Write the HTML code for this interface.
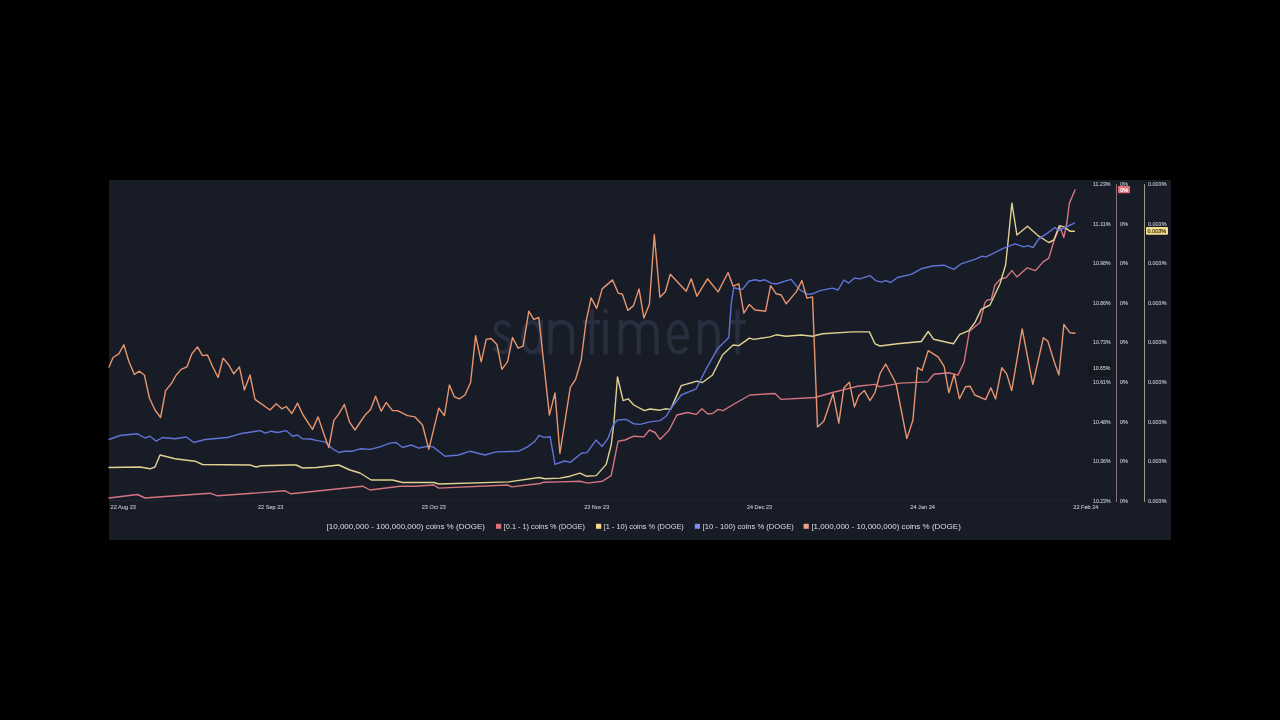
<!DOCTYPE html>
<html><head><meta charset="utf-8"><title>chart</title>
<style>
html,body{margin:0;padding:0;background:#000;width:1280px;height:720px;overflow:hidden;}
body{position:relative;font-family:"Liberation Sans",sans-serif;}
.panel{position:absolute;left:109px;top:180px;width:1062px;height:360px;background:#171c27;}
svg{position:absolute;left:0;top:0;font-family:"Liberation Sans",sans-serif;will-change:transform;}
</style></head><body>
<div class="panel"></div>
<svg width="1280" height="720" viewBox="0 0 1280 720">
<path d="M509.6 327 C508 323.8 505.5 322.1 502.5 322.1 C498.3 322.1 495.6 324.7 495.6 328.8 C495.6 333.6 499.5 335.4 502.8 336.8 C506.6 338.4 510 340.3 510 345.3 C510 349.8 506.9 352.4 502.4 352.4 C498.6 352.4 495.6 350.5 494.3 347.4 M523.1 337.25 C523.1 328.6 527 322.1 532 322.1 C537 322.1 540.9 328.6 540.9 337.25 C540.9 345.9 537 352.4 532 352.4 C527 352.4 523.1 345.9 523.1 337.25 Z M540.9 320 V354.5 M550.60 320 V354.5 M550.60 334 C550.60 325.60 554.33 322.1 561.25 322.1 C568.17 322.1 571.90 325.60 571.90 334 V354.5 M583 322.1 H600 M591.8 309.5 V354.5 M605.6 320 V354.5 M620.85 320 V354.5 M620.85 334 C620.85 325.60 623.98 322.1 629.80 322.1 C635.62 322.1 638.75 325.60 638.75 334 V354.5 M638.75 334 C638.75 325.60 641.88 322.1 647.70 322.1 C653.52 322.1 656.65 325.60 656.65 334 V354.5 M669.1 337.3 H686.9 C686.9 328.2 683 322.1 678 322.1 C673 322.1 669.1 328.2 669.1 337.25 C669.1 346.3 673 352.4 678 352.4 C681.7 352.4 684.6 350.5 686.3 347.3 M700.10 320 V354.5 M700.10 334 C700.10 325.60 703.14 322.1 708.80 322.1 C714.45 322.1 717.50 325.60 717.50 334 V354.5 M729 322.1 H746 M737.5 309.5 V354.5" fill="none" stroke="#282e3e" stroke-width="4.2"/>
<circle cx="605.6" cy="311" r="2.4" fill="#282e3e"/>
<text x="1093" y="185.7" font-size="5.2" fill="#b4b8c3" stroke="#b4b8c3" stroke-width="0.15" textLength="17.6" lengthAdjust="spacingAndGlyphs">11.23%</text>
<text x="1120" y="185.7" font-size="5.2" fill="#b4b8c3" stroke="#b4b8c3" stroke-width="0.15" textLength="8" lengthAdjust="spacingAndGlyphs">0%</text>
<text x="1148" y="185.7" font-size="5.2" fill="#b4b8c3" stroke="#b4b8c3" stroke-width="0.15" textLength="18.5" lengthAdjust="spacingAndGlyphs">0.003%</text>
<text x="1093" y="225.7" font-size="5.2" fill="#b4b8c3" stroke="#b4b8c3" stroke-width="0.15" textLength="17.6" lengthAdjust="spacingAndGlyphs">11.11%</text>
<text x="1120" y="225.7" font-size="5.2" fill="#b4b8c3" stroke="#b4b8c3" stroke-width="0.15" textLength="8" lengthAdjust="spacingAndGlyphs">0%</text>
<text x="1148" y="225.7" font-size="5.2" fill="#b4b8c3" stroke="#b4b8c3" stroke-width="0.15" textLength="18.5" lengthAdjust="spacingAndGlyphs">0.003%</text>
<text x="1093" y="265.1" font-size="5.2" fill="#b4b8c3" stroke="#b4b8c3" stroke-width="0.15" textLength="17.6" lengthAdjust="spacingAndGlyphs">10.98%</text>
<text x="1120" y="265.1" font-size="5.2" fill="#b4b8c3" stroke="#b4b8c3" stroke-width="0.15" textLength="8" lengthAdjust="spacingAndGlyphs">0%</text>
<text x="1148" y="265.1" font-size="5.2" fill="#b4b8c3" stroke="#b4b8c3" stroke-width="0.15" textLength="18.5" lengthAdjust="spacingAndGlyphs">0.003%</text>
<text x="1093" y="304.5" font-size="5.2" fill="#b4b8c3" stroke="#b4b8c3" stroke-width="0.15" textLength="17.6" lengthAdjust="spacingAndGlyphs">10.86%</text>
<text x="1120" y="304.5" font-size="5.2" fill="#b4b8c3" stroke="#b4b8c3" stroke-width="0.15" textLength="8" lengthAdjust="spacingAndGlyphs">0%</text>
<text x="1148" y="304.5" font-size="5.2" fill="#b4b8c3" stroke="#b4b8c3" stroke-width="0.15" textLength="18.5" lengthAdjust="spacingAndGlyphs">0.003%</text>
<text x="1093" y="344.2" font-size="5.2" fill="#b4b8c3" stroke="#b4b8c3" stroke-width="0.15" textLength="17.6" lengthAdjust="spacingAndGlyphs">10.73%</text>
<text x="1120" y="344.2" font-size="5.2" fill="#b4b8c3" stroke="#b4b8c3" stroke-width="0.15" textLength="8" lengthAdjust="spacingAndGlyphs">0%</text>
<text x="1148" y="344.2" font-size="5.2" fill="#b4b8c3" stroke="#b4b8c3" stroke-width="0.15" textLength="18.5" lengthAdjust="spacingAndGlyphs">0.003%</text>
<text x="1093" y="383.7" font-size="5.2" fill="#b4b8c3" stroke="#b4b8c3" stroke-width="0.15" textLength="17.6" lengthAdjust="spacingAndGlyphs">10.61%</text>
<text x="1120" y="383.7" font-size="5.2" fill="#b4b8c3" stroke="#b4b8c3" stroke-width="0.15" textLength="8" lengthAdjust="spacingAndGlyphs">0%</text>
<text x="1148" y="383.7" font-size="5.2" fill="#b4b8c3" stroke="#b4b8c3" stroke-width="0.15" textLength="18.5" lengthAdjust="spacingAndGlyphs">0.003%</text>
<text x="1093" y="423.5" font-size="5.2" fill="#b4b8c3" stroke="#b4b8c3" stroke-width="0.15" textLength="17.6" lengthAdjust="spacingAndGlyphs">10.48%</text>
<text x="1120" y="423.5" font-size="5.2" fill="#b4b8c3" stroke="#b4b8c3" stroke-width="0.15" textLength="8" lengthAdjust="spacingAndGlyphs">0%</text>
<text x="1148" y="423.5" font-size="5.2" fill="#b4b8c3" stroke="#b4b8c3" stroke-width="0.15" textLength="18.5" lengthAdjust="spacingAndGlyphs">0.003%</text>
<text x="1093" y="463.2" font-size="5.2" fill="#b4b8c3" stroke="#b4b8c3" stroke-width="0.15" textLength="17.6" lengthAdjust="spacingAndGlyphs">10.36%</text>
<text x="1120" y="463.2" font-size="5.2" fill="#b4b8c3" stroke="#b4b8c3" stroke-width="0.15" textLength="8" lengthAdjust="spacingAndGlyphs">0%</text>
<text x="1148" y="463.2" font-size="5.2" fill="#b4b8c3" stroke="#b4b8c3" stroke-width="0.15" textLength="18.5" lengthAdjust="spacingAndGlyphs">0.003%</text>
<text x="1093" y="502.7" font-size="5.2" fill="#b4b8c3" stroke="#b4b8c3" stroke-width="0.15" textLength="17.6" lengthAdjust="spacingAndGlyphs">10.23%</text>
<text x="1120" y="502.7" font-size="5.2" fill="#b4b8c3" stroke="#b4b8c3" stroke-width="0.15" textLength="8" lengthAdjust="spacingAndGlyphs">0%</text>
<text x="1148" y="502.7" font-size="5.2" fill="#b4b8c3" stroke="#b4b8c3" stroke-width="0.15" textLength="18.5" lengthAdjust="spacingAndGlyphs">0.003%</text>
<text x="110.5" y="508.9" font-size="5.6" fill="#b4b8c3" stroke="#b4b8c3" stroke-width="0.15" textLength="25.5" lengthAdjust="spacingAndGlyphs">22 Aug 23</text>
<text x="258" y="508.9" font-size="5.6" fill="#b4b8c3" stroke="#b4b8c3" stroke-width="0.15" textLength="25.4" lengthAdjust="spacingAndGlyphs">22 Sep 23</text>
<text x="421.7" y="508.9" font-size="5.6" fill="#b4b8c3" stroke="#b4b8c3" stroke-width="0.15" textLength="24.2" lengthAdjust="spacingAndGlyphs">23 Oct 23</text>
<text x="584.2" y="508.9" font-size="5.6" fill="#b4b8c3" stroke="#b4b8c3" stroke-width="0.15" textLength="25.0" lengthAdjust="spacingAndGlyphs">23 Nov 23</text>
<text x="747" y="508.9" font-size="5.6" fill="#b4b8c3" stroke="#b4b8c3" stroke-width="0.15" textLength="25.0" lengthAdjust="spacingAndGlyphs">24 Dec 23</text>
<text x="910.3" y="508.9" font-size="5.6" fill="#b4b8c3" stroke="#b4b8c3" stroke-width="0.15" textLength="24.7" lengthAdjust="spacingAndGlyphs">24 Jan 24</text>
<text x="1073.3" y="508.9" font-size="5.6" fill="#b4b8c3" stroke="#b4b8c3" stroke-width="0.15" textLength="25.2" lengthAdjust="spacingAndGlyphs">22 Feb 24</text>
<rect x="109" y="500" width="966" height="1" fill="#1f2430"/>
<rect x="1116" y="184" width="1" height="318" fill="#86707c"/>
<rect x="1144" y="184" width="1" height="318" fill="#a09c84"/>
<rect x="1088" y="360" width="24" height="16" rx="2" fill="#141821"/>
<text x="1110.5" y="369.9" text-anchor="end" font-size="5.2" fill="#e6e8ee">10.65%</text>
<rect x="1118" y="186" width="12" height="7.3" rx="1" fill="#e46e76"/>
<text x="1120.2" y="191.9" font-size="5.4" fill="#ffffff" stroke="#ffffff" stroke-width="0.15" textLength="8" lengthAdjust="spacingAndGlyphs">0%</text>
<rect x="1146" y="227" width="22" height="7.7" rx="1" fill="#f4dc92"/>
<text x="1147.6" y="232.9" font-size="5.4" fill="#4a3c10" stroke="#4a3c10" stroke-width="0.2" textLength="18.4" lengthAdjust="spacingAndGlyphs">0.003%</text>
<path d="M109.0 498.0 L137.5 494.5 L145.0 498.0 L210.0 493.2 L217.5 495.8 L285.0 490.8 L291.2 493.8 L362.5 486.2 L370.0 490.0 L400.0 486.2 L415.0 486.2 L433.8 485.0 L438.8 488.1 L507.5 485.0 L511.9 486.9 L540.0 483.5 L543.8 482.2 L560.0 481.9 L580.0 481.2 L587.5 483.1 L602.5 481.2 L611.2 475.6 L618.1 441.2 L625.0 440.0 L633.8 436.2 L643.8 436.9 L649.4 430.0 L655.0 432.5 L660.0 439.4 L668.8 430.6 L676.9 415.0 L687.5 412.5 L696.2 414.4 L701.9 408.8 L707.5 413.8 L712.5 413.5 L718.1 409.4 L723.1 410.6 L735.0 403.5 L750.0 395.0 L775.0 393.5 L781.2 399.4 L815.0 397.5 L832.5 392.5 L850.0 388.1 L857.5 386.2 L875.0 384.4 L880.0 386.9 L900.0 383.1 L927.5 381.9 L933.8 374.3 L948.8 372.8 L958.0 375.1 L964.1 362.1 L969.4 331.2 L980.0 322.5 L985.0 302.5 L987.5 300.0 L991.2 299.4 L995.0 285.0 L1000.0 279.4 L1006.2 277.5 L1011.9 270.6 L1016.9 276.9 L1027.2 267.8 L1035.5 270.6 L1043.1 261.9 L1048.8 258.1 L1053.8 241.2 L1060.0 226.2 L1063.8 237.5 L1066.9 222.5 L1069.4 203.1 L1075.0 190.0" fill="none" stroke="#d47580" stroke-width="1.4" stroke-linejoin="round" stroke-linecap="round"/>
<path d="M109.0 467.5 L140.0 467.0 L150.0 468.8 L155.0 467.0 L160.0 455.0 L175.0 458.8 L195.0 461.2 L202.5 464.5 L250.0 465.0 L256.2 467.0 L261.2 465.8 L290.0 465.0 L296.2 465.0 L302.5 468.0 L316.2 467.5 L338.8 465.0 L350.0 470.0 L360.0 473.0 L371.2 480.0 L392.5 480.0 L402.5 482.5 L415.0 482.5 L433.8 482.5 L438.8 484.0 L508.8 481.9 L538.8 477.5 L545.0 478.8 L560.0 478.1 L570.0 476.2 L580.0 473.1 L586.2 476.2 L596.2 475.6 L606.2 464.4 L611.2 445.0 L613.8 423.8 L617.5 376.9 L623.1 400.6 L628.1 398.8 L633.8 405.0 L644.4 410.6 L650.0 409.0 L660.0 410.2 L665.0 408.8 L670.6 409.4 L681.2 385.6 L696.9 381.2 L702.5 382.5 L712.5 375.0 L722.5 355.0 L733.1 345.0 L738.8 345.6 L749.4 338.1 L753.8 339.4 L770.0 336.9 L776.2 334.8 L786.2 336.2 L801.2 335.0 L812.5 336.2 L822.5 333.8 L852.5 331.9 L869.4 331.9 L875.0 343.8 L880.0 346.0 L897.5 343.8 L921.3 341.5 L928.2 331.5 L933.5 339.2 L953.4 343.8 L959.5 334.6 L968.8 330.6 L975.0 322.5 L981.2 309.4 L990.0 305.0 L1000.0 283.8 L1005.6 265.0 L1008.1 241.2 L1011.9 203.1 L1016.9 235.0 L1027.5 226.2 L1038.8 236.2 L1048.8 242.5 L1053.8 240.0 L1059.4 225.6 L1063.8 226.9 L1070.0 231.2 L1074.4 231.2" fill="none" stroke="#e1d292" stroke-width="1.4" stroke-linejoin="round" stroke-linecap="round"/>
<path d="M109.0 439.5 L120.0 435.5 L137.5 433.8 L145.0 438.0 L150.0 436.2 L156.2 441.2 L162.5 437.5 L175.0 438.8 L186.2 437.0 L193.8 442.5 L205.0 439.5 L227.5 437.5 L240.0 433.8 L260.0 430.6 L265.6 433.1 L271.2 431.2 L277.5 432.5 L286.2 430.6 L292.5 436.2 L297.5 435.0 L302.5 438.8 L310.0 439.0 L317.5 440.6 L325.0 441.9 L332.5 448.8 L338.8 452.5 L345.0 451.2 L352.5 451.2 L360.0 448.8 L370.0 449.4 L380.0 446.9 L390.0 443.1 L396.2 442.5 L402.5 447.5 L411.2 445.0 L418.8 448.1 L427.5 446.2 L433.1 446.9 L445.0 456.2 L458.8 455.0 L470.0 451.2 L485.0 455.0 L496.2 451.9 L518.8 451.2 L527.5 446.9 L535.0 441.2 L539.0 435.3 L543.9 437.4 L550.1 436.7 L555.0 464.4 L564.7 461.0 L570.3 462.4 L581.4 453.3 L587.0 452.6 L596.0 440.1 L602.2 446.4 L608.1 438.1 L613.1 425.0 L617.5 420.0 L626.2 419.4 L633.8 423.8 L640.0 424.4 L650.0 421.9 L660.0 420.6 L666.2 416.2 L672.5 406.2 L681.2 395.0 L696.2 388.8 L706.2 368.8 L717.5 348.8 L728.8 337.5 L731.2 303.8 L733.8 287.5 L737.5 288.8 L742.5 289.4 L748.8 281.2 L755.0 279.8 L760.0 281.0 L765.0 279.8 L771.2 283.1 L776.2 284.0 L785.0 281.2 L791.2 279.4 L799.4 289.4 L807.5 294.4 L812.5 293.8 L820.0 290.6 L832.5 288.1 L838.1 290.0 L843.8 280.0 L848.8 283.1 L854.4 278.1 L860.0 278.8 L870.0 275.6 L875.6 280.6 L881.2 282.2 L885.6 280.6 L890.6 282.5 L897.5 277.5 L911.2 274.4 L921.2 268.8 L932.5 266.0 L943.8 265.2 L953.8 269.4 L961.2 263.8 L976.2 258.8 L981.9 256.2 L986.2 256.9 L1003.8 248.1 L1015.0 243.8 L1023.8 246.9 L1028.1 245.6 L1033.1 247.5 L1038.8 238.8 L1047.5 233.1 L1055.0 227.5 L1058.8 230.6 L1065.0 227.5 L1074.4 223.1" fill="none" stroke="#5f74d6" stroke-width="1.4" stroke-linejoin="round" stroke-linecap="round"/>
<path d="M109.0 367.0 L113.1 357.5 L118.8 353.8 L123.8 344.8 L128.8 361.2 L134.4 374.4 L139.4 371.2 L144.4 375.0 L149.4 398.0 L155.0 410.0 L160.6 417.5 L165.6 390.6 L171.2 383.8 L176.2 375.0 L181.2 369.4 L186.9 366.9 L191.9 353.8 L197.5 346.9 L202.5 355.6 L207.5 355.0 L212.5 366.2 L218.1 377.5 L223.1 358.1 L228.8 365.0 L233.8 373.8 L239.4 366.9 L244.4 390.0 L250.0 375.0 L255.0 399.4 L270.0 410.0 L276.2 403.8 L281.9 408.8 L286.2 406.5 L291.9 413.5 L297.5 403.1 L303.1 415.0 L312.5 429.4 L318.1 416.9 L323.8 433.8 L328.8 447.5 L333.8 420.6 L338.8 413.8 L344.4 404.4 L349.4 421.9 L355.0 430.0 L360.0 422.5 L365.6 414.4 L370.6 409.4 L375.6 396.2 L381.2 411.2 L386.2 402.5 L392.5 410.6 L397.5 410.6 L407.5 415.6 L415.0 416.9 L422.5 425.0 L428.8 449.4 L438.8 408.1 L444.4 415.6 L449.4 385.0 L454.4 396.9 L459.4 398.8 L465.0 395.0 L470.6 382.5 L475.6 335.6 L481.2 361.9 L486.2 339.4 L491.2 338.5 L496.9 344.4 L501.9 369.4 L507.5 361.9 L512.5 337.5 L518.1 348.1 L523.1 346.2 L528.8 311.2 L533.8 319.4 L538.8 317.5 L549.4 415.1 L555.0 392.9 L559.9 453.3 L570.3 387.4 L575.6 379.4 L581.2 360.0 L586.0 322.0 L591.1 297.9 L596.7 308.3 L602.2 288.9 L612.6 279.9 L618.2 293.1 L622.4 294.2 L627.9 310.4 L633.5 305.6 L639.0 288.9 L643.9 318.1 L649.4 304.2 L654.3 234.7 L659.9 297.2 L665.4 291.7 L670.3 274.3 L686.2 291.2 L691.2 278.8 L696.9 296.2 L707.5 278.8 L718.1 291.9 L728.1 272.5 L733.1 286.2 L738.8 283.8 L743.8 313.1 L749.4 304.4 L755.0 310.0 L765.6 311.2 L770.6 285.6 L776.2 293.8 L781.2 295.0 L786.2 303.8 L796.2 291.9 L801.9 280.6 L806.9 298.1 L812.5 296.9 L817.5 426.9 L823.8 421.2 L833.1 393.8 L838.8 423.1 L843.8 388.1 L849.4 382.2 L854.4 406.9 L858.8 395.6 L864.4 390.6 L870.0 400.6 L875.0 392.5 L880.0 373.5 L885.7 364.0 L896.0 383.5 L906.8 438.6 L912.9 420.2 L917.5 367.5 L922.0 370.5 L928.2 350.6 L938.1 356.8 L944.2 366.7 L948.8 392.7 L954.2 374.3 L959.5 398.8 L965.6 386.6 L970.2 386.3 L974.8 395.0 L985.5 399.6 L990.9 387.8 L995.6 398.9 L1001.7 367.8 L1006.7 373.9 L1011.7 390.6 L1022.2 328.9 L1032.8 384.4 L1043.3 337.8 L1047.8 341.1 L1054.4 362.2 L1058.9 375.0 L1063.9 324.4 L1070.0 332.8 L1075.0 333.3" fill="none" stroke="#e8956f" stroke-width="1.4" stroke-linejoin="round" stroke-linecap="round"/>
<text x="326.5" y="528.9" font-size="7.8" fill="#dcdfe6" textLength="158.5" lengthAdjust="spacingAndGlyphs">[10,000,000 - 100,000,000) coins % (DOGE)</text>
<rect x="496.0" y="523.8" width="5.2" height="5" fill="#e07078"/>
<text x="503.8" y="528.9" font-size="7.8" fill="#dcdfe6" textLength="81.2" lengthAdjust="spacingAndGlyphs">[0.1 - 1) coins % (DOGE)</text>
<rect x="596.0" y="523.8" width="5.2" height="5" fill="#f3d98a"/>
<text x="603.8" y="528.9" font-size="7.8" fill="#dcdfe6" textLength="80.0" lengthAdjust="spacingAndGlyphs">[1 - 10) coins % (DOGE)</text>
<rect x="694.8" y="523.8" width="5.2" height="5" fill="#7b8cf0"/>
<text x="702.6" y="528.9" font-size="7.8" fill="#dcdfe6" textLength="91.3" lengthAdjust="spacingAndGlyphs">[10 - 100) coins % (DOGE)</text>
<rect x="803.6" y="523.8" width="5.2" height="5" fill="#f0a088"/>
<text x="811.4" y="528.9" font-size="7.8" fill="#dcdfe6" textLength="149.5" lengthAdjust="spacingAndGlyphs">[1,000,000 - 10,000,000) coins % (DOGE)</text>
</svg>
</body></html>
